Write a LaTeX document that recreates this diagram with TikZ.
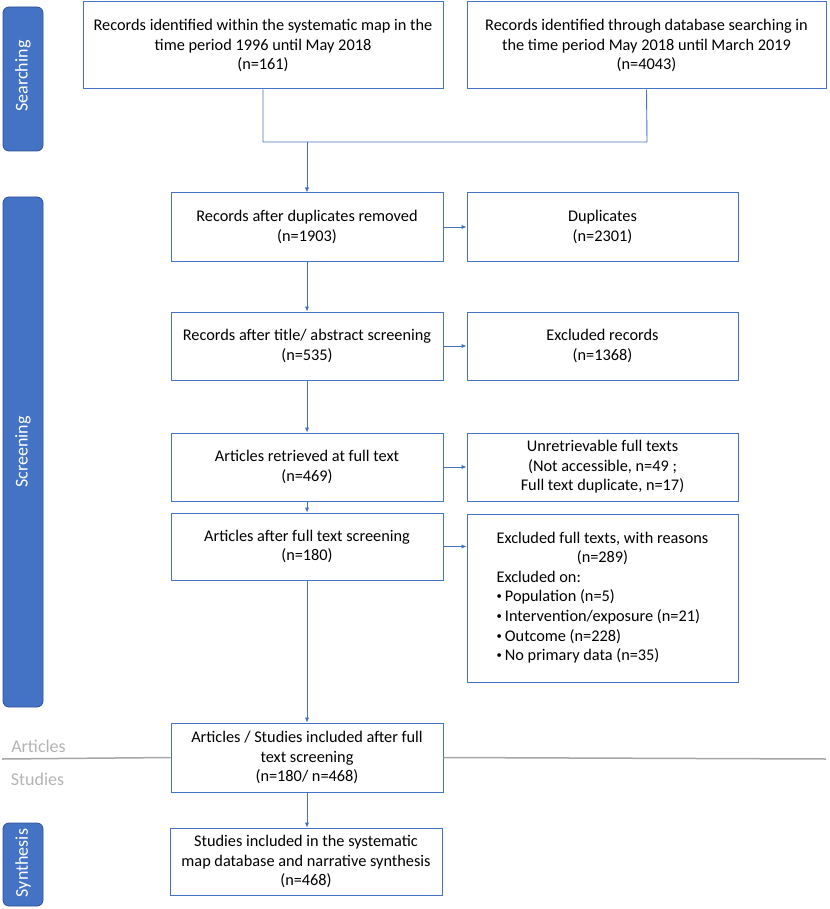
\documentclass[tikz,border=0pt]{standalone}
\usepackage{fontspec}
\setmainfont{Carlito}
\usetikzlibrary{arrows.meta}
\definecolor{obl}{HTML}{4472C4}
\definecolor{obd}{HTML}{2F528F}
\definecolor{grl}{HTML}{A6A6A6}
\definecolor{grt}{HTML}{B4B4B4}
\newcommand{\smbul}{\raisebox{0.12em}{\scalebox{0.65}{•}}\hspace{3pt}}
\begin{document}
\begin{tikzpicture}[x=1pt,y=-1pt,
 box/.style={draw=obl, line width=1pt, fill=white, align=center, inner sep=0pt, font=\fontsize{16.3}{19.6}\selectfont, text=black},
 conn/.style={draw=obl, line width=0.9pt},
 arr/.style={conn, -{Latex[length=5pt,width=4.5pt]}},
 bar/.style={draw=obd, fill=obl, rounded corners=6pt, line width=0.8pt},
 bartext/.style={text=white, rotate=90, font=\fontsize{18}{20}\selectfont},
 side/.style={text=grt, font=\fontsize{18}{20}\selectfont}]
\useasboundingbox (0,0) rectangle (829,909);

% side bars
\draw[bar] (3,7) rectangle (43,151);
\node[bartext] (lsearch) at (23,76) {Searching};
\draw[bar] (3,197) rectangle (43,707);
\node[bartext] (lscreen) at (23,452) {Screening};
\draw[bar] (3,823) rectangle (43,906);
\node[bartext] (lsynth) at (23,863) {Synthesis};

% grey separator
\coordinate (gl) at (2,759);
\coordinate (gr) at (826,759);

% boxes
\node[box, minimum width=360pt, minimum height=87pt] (b1) at (263,45.5)
 {Records identified within the systematic map in the\\time period 1996 until May 2018\\(n=161)};
\node[box, minimum width=359pt, minimum height=87pt] (b2) at (646.5,45.5)
 {Records identified through database searching in\\the time period May 2018 until March 2019\\(n=4043)};
\node[box, minimum width=272pt, minimum height=68pt] (b3) at (307,227)
 {Records after duplicates removed\\(n=1903)};
\node[box, minimum width=271pt, minimum height=68pt] (dup) at (602.5,227)
 {Duplicates\\(n=2301)};
\node[box, minimum width=272pt, minimum height=68pt] (b4) at (307,346)
 {Records after title/ abstract screening\\(n=535)};
\node[box, minimum width=271pt, minimum height=68pt] (exr) at (602.5,346)
 {Excluded records\\(n=1368)};
\node[box, minimum width=272pt, minimum height=68pt] (b5) at (307,467)
 {Articles retrieved at full text\\(n=469)};
\node[box, minimum width=271pt, minimum height=68pt] (unr) at (602.5,467)
 {Unretrievable full texts\\(Not accessible, n=49 ;\\Full text duplicate, n=17)};
\node[box, minimum width=272pt, minimum height=67pt] (b6) at (307,546.5)
 {Articles after full text screening\\(n=180)};
\node[box, minimum width=271pt, minimum height=168pt] (exf) at (602.5,598)
 {\begin{tabular}{@{}l@{}}
 \multicolumn{1}{@{}c@{}}{Excluded full texts, with reasons}\\
 \multicolumn{1}{@{}c@{}}{(n=289)}\\
 Excluded on:\\
 \smbul Population (n=5)\\
 \smbul Intervention/exposure (n=21)\\
 \smbul Outcome (n=228)\\
 \smbul No primary data (n=35)
 \end{tabular}};
\node[box, minimum width=272pt, minimum height=69pt] (b7) at (307,757.5)
 {Articles / Studies included after full\\text screening\\(n=180/ n=468)};
\node[box, minimum width=272pt, minimum height=67pt] (b8) at (306,861.5)
 {Studies included in the systematic\\map database and narrative synthesis\\(n=468)};

\draw[grl, line width=1.5pt] (gl) -- (b7.west);
\draw[grl, line width=1.5pt] (b7.east) -- (gr);
\node[side] (tart) at (38.5,746) {Articles};
\node[side] (tstu) at (37.5,779) {Studies};

% connectors
\coordinate (m1) at (263,142);
\coordinate (m2) at (647,142);
\coordinate (j) at (307,142);
\draw[conn] (b1.south) -- (m1) -- (m2) -- (b2.south);
\draw[arr] (j) -- (b3.north);
\draw[arr] (b3.south) -- (b4.north);
\draw[arr] (b4.south) -- (b5.north);
\draw[arr] (b5.south) -- (b6.north);
\draw[arr] (b6.south) -- (b7.north);
\draw[arr] (b7.south) -- (b8.north -| b7.south);
\draw[arr] (b3.east) -- (dup.west);
\draw[arr] (b4.east) -- (exr.west);
\draw[arr] (b5.east) -- (unr.west);
\draw[arr] (b6.east) -- (b6.east -| exf.west);
\end{tikzpicture}
\end{document}
